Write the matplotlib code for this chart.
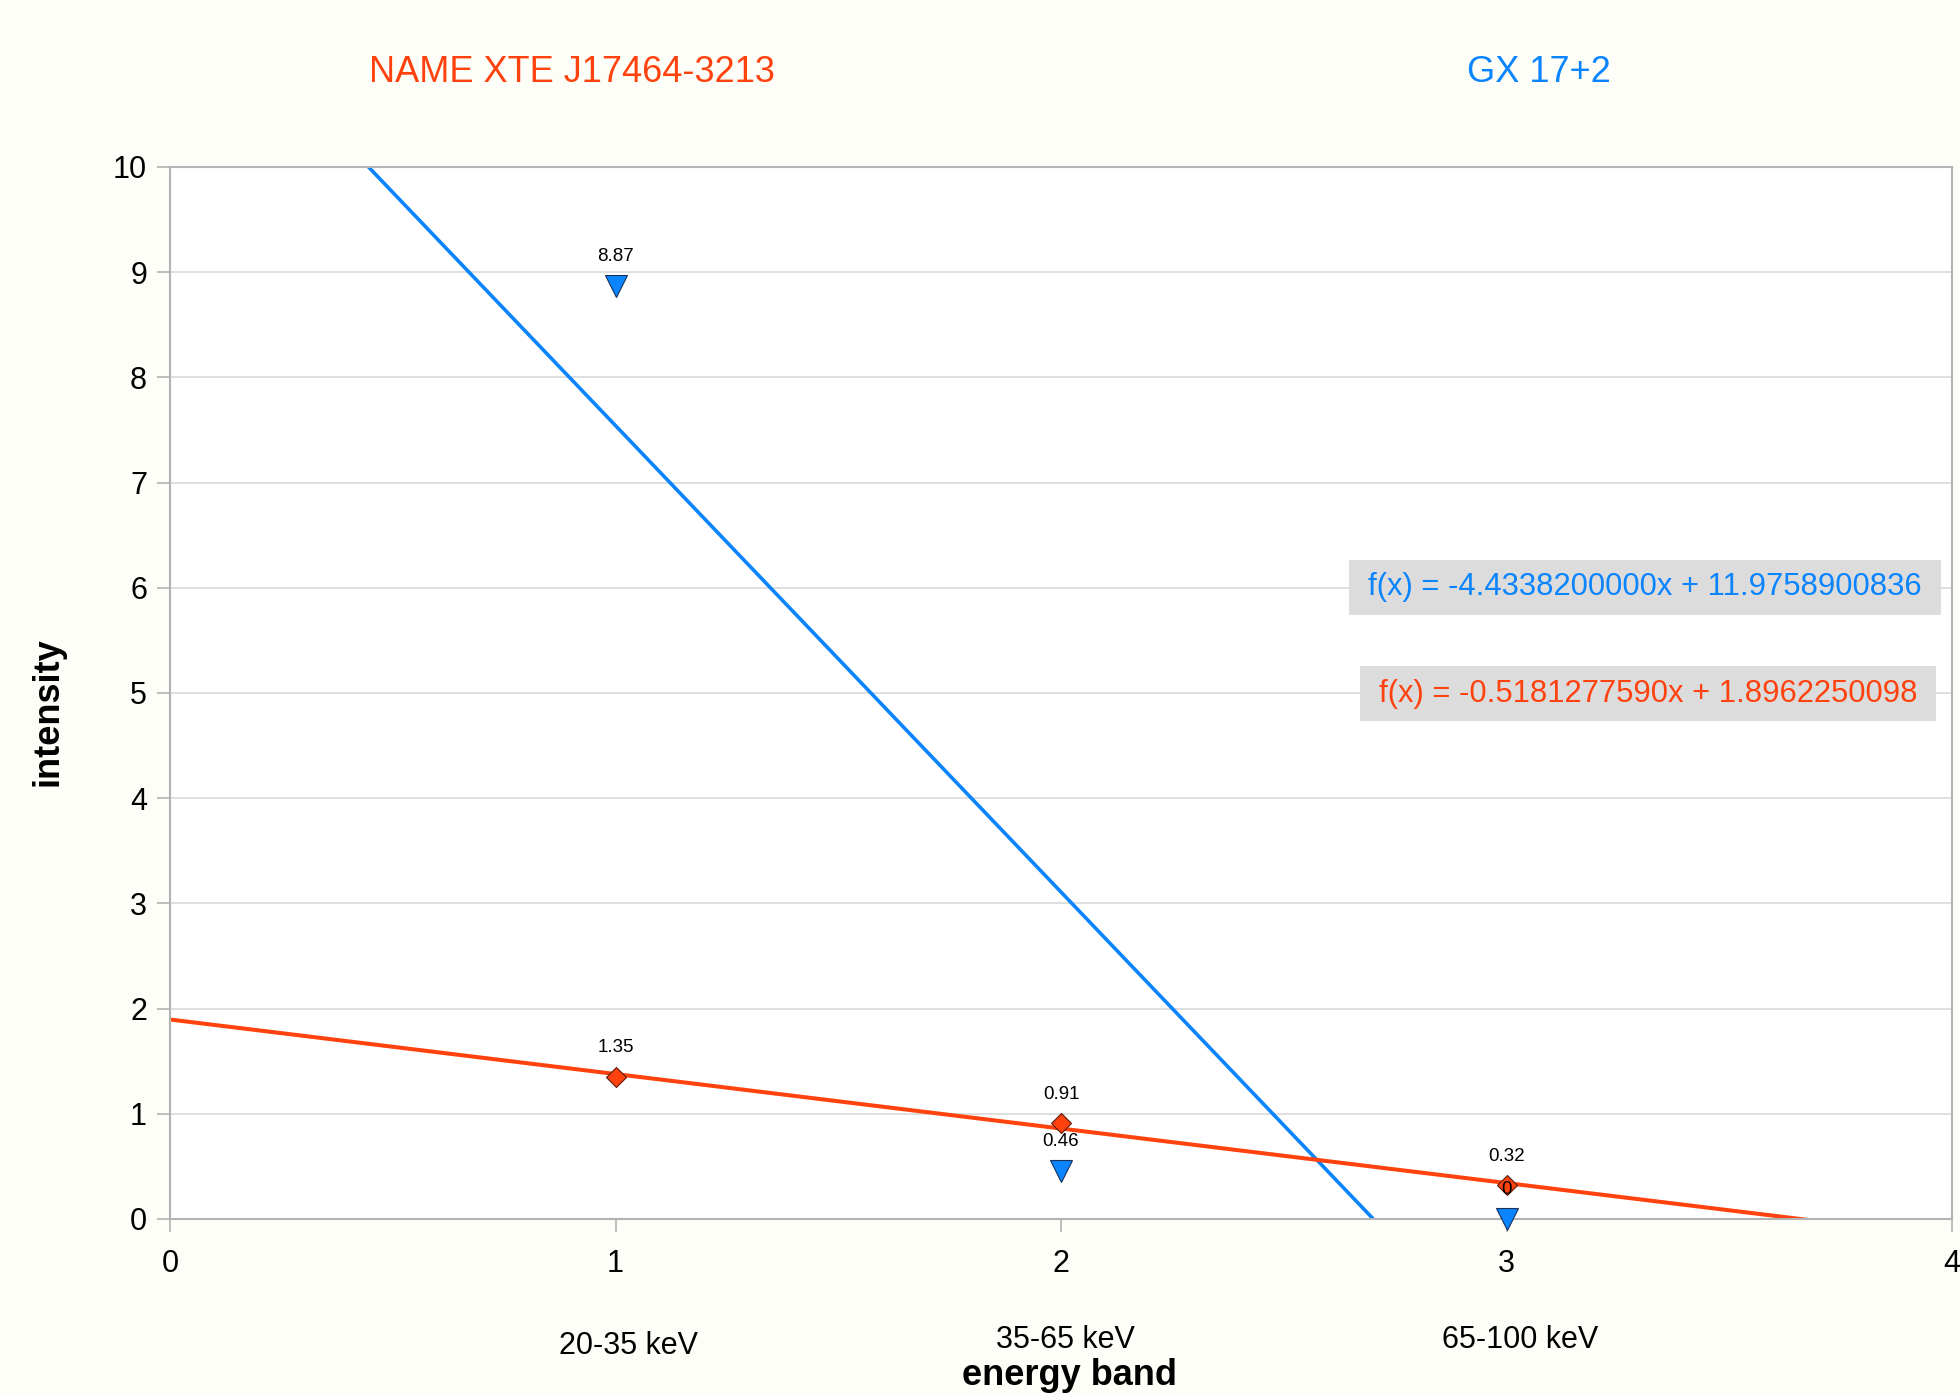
import matplotlib
matplotlib.use("Agg")
import matplotlib.pyplot as plt
from matplotlib.patches import Rectangle
import numpy as np

plt.rcParams['font.family'] = ['Liberation Sans', 'DejaVu Sans']

# band index on the x axis
band_x = [1, 2, 3]
band_labels = ["20-35 keV", "35-65 keV", "65-100 keV"]
band_label_nudge = [0.03, 0.01, 0.03]

# measured intensities
xte_name = "NAME XTE J17464-3213"
xte_values = [1.35, 0.91, 0.32]
gx_name = "GX 17+2"
gx_values = [8.87, 0.46, 0.0]

# linear trend lines
xte_slope, xte_intercept = -0.5181277590, 1.8962250098
gx_slope, gx_intercept = -4.4338200000, 11.9758900836

x_ticks = [0, 1, 2, 3, 4]
y_ticks = list(range(0, 11))

RED = "#ff420e"
BLUE = "#0a84ff"
GRID = "#d9d9d9"
SPINE = "#b3b3b3"

W, H = 1960, 1394
fig = plt.figure(figsize=(W / 100, H / 100), dpi=100, facecolor="#fefef9")
ax = fig.add_axes([170 / W, 1 - 1219 / H, (1952 - 170) / W, (1219 - 167) / H])
ax.set_facecolor("white")

ax.set_xlim(0, 4)
ax.set_ylim(0, 10)
ax.set_xticks(x_ticks)
ax.set_yticks(y_ticks)
ax.tick_params(axis="both", length=9.5, width=1.2, color=SPINE, labelsize=22, pad=7)
ax.tick_params(axis="x", pad=12)
for s in ax.spines.values():
    s.set_color(SPINE)
    s.set_linewidth(1.5)
ax.yaxis.grid(True, color=GRID, linewidth=1.2)
ax.set_axisbelow(True)

# trend lines
xs = np.linspace(0, 4, 200)
ax.plot(xs, gx_slope * xs + gx_intercept, color=BLUE, linewidth=2.6, zorder=2)
ax.plot(xs, xte_slope * xs + xte_intercept, color=RED, linewidth=2.9, zorder=2)

# data points
ax.plot(band_x, xte_values, linestyle="none", marker="D", markersize=10.5,
        markerfacecolor=RED, markeredgecolor="#5a1a08", markeredgewidth=0.8,
        zorder=4, clip_on=False)
ax.plot(band_x, gx_values, linestyle="none", marker="v", markersize=16,
        markerfacecolor=BLUE, markeredgecolor="#17315a", markeredgewidth=0.8,
        zorder=4, clip_on=False)

# value labels above each point
for series in (xte_values, gx_values):
    for xv, yv in zip(band_x, series):
        ax.annotate(f"{yv:g}", (xv, yv), xytext=(0, 21), textcoords="offset points",
                    ha="center", va="center", fontsize=13.5, color="black", zorder=5)


def equation_box(x0, y0, x1, y1, text, color):
    fig.patches.append(Rectangle((x0 / W, 1 - y1 / H), (x1 - x0) / W, (y1 - y0) / H,
                                 transform=fig.transFigure, facecolor="#dcdcdc",
                                 edgecolor="none", zorder=1))
    fig.text((x0 + x1) / 2 / W, 1 - (y0 + y1) / 2 / H, text, color=color,
             fontsize=22.3, ha="center", va="center", zorder=2)


# trend-line equations
equation_box(1349, 560, 1941, 615,
             f"f(x) = {gx_slope:.10f}x + {gx_intercept:.10f}", BLUE)
equation_box(1360, 666, 1936, 721,
             f"f(x) = {xte_slope:.10f}x + {xte_intercept:.10f}", RED)

# series names
fig.text(572 / W, 1 - 72 / H, xte_name, color=RED, fontsize=26,
         ha="center", va="center")
fig.text(1539 / W, 1 - 72 / H, gx_name, color=BLUE, fontsize=26,
         ha="center", va="center")

# energy band names under the axis
band_label_y = [1346, 1340, 1340]
for xv, lab, nd, py in zip(band_x, band_labels, band_label_nudge, band_label_y):
    xf = ax.transData.transform((xv + nd, 0))[0] / fig.bbox.width
    fig.text(xf, 1 - py / H, lab, ha="center", va="center", fontsize=22)

fig.text(1069 / W, 1 - 1358 / H, "energy band", fontsize=26,
         fontweight="bold", ha="center", va="top")
fig.text(48 / W, 1 - 712 / H, "intensity", fontsize=26,
         fontweight="bold", rotation=90, ha="center", va="center")

fig.savefig("out.png", dpi=100, facecolor=fig.get_facecolor())
